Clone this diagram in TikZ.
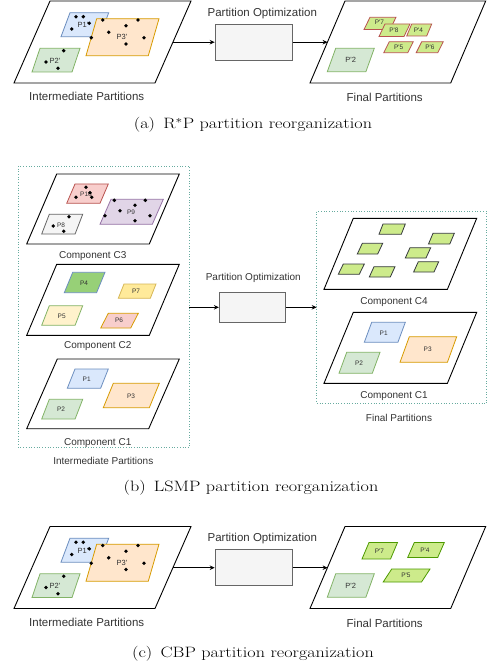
\documentclass[tikz,border=0pt]{standalone}
\usepackage{fontspec}
\newfontfamily\hv{Liberation Sans}
\usetikzlibrary{arrows.meta}
\definecolor{cblueF}{HTML}{DAE8FC}\definecolor{cblueS}{HTML}{6C8EBF}
\definecolor{corF}{HTML}{FFE6CC}\definecolor{corS}{HTML}{D79B00}
\definecolor{cgrF}{HTML}{D5E8D4}\definecolor{cgrS}{HTML}{82B366}
\definecolor{credF}{HTML}{F8CECC}\definecolor{credS}{HTML}{B85450}
\definecolor{cpuF}{HTML}{E1D5E7}\definecolor{cpuS}{HTML}{9673A6}
\definecolor{cgyF}{HTML}{F5F5F5}\definecolor{cgyS}{HTML}{666666}
\definecolor{cyeF}{HTML}{FFF2CC}\definecolor{cyeS}{HTML}{D6B656}
\definecolor{cye2F}{HTML}{FFEA9A}
\definecolor{climeF}{HTML}{CDEB8B}\definecolor{climeS}{HTML}{36393D}
\definecolor{cdkgrS}{HTML}{4D9900}
\definecolor{cgr2F}{HTML}{97D077}
\definecolor{cteal}{HTML}{67AB9F}
\definecolor{ctxt}{HTML}{333333}
\newcommand{\pgm}[6][]{\path[#1] (#2,#4) -- (#3,#4) -- ({#3-#5},#6) -- ({#2-#5},#6) -- cycle;}
\newcommand{\dt}[2]{\fill[black] (#1,#2) circle (1.9pt);}
\newcommand{\figtext}[1]{\scalebox{1.21}[1]{#1}}
\tikzset{
  big/.style={draw=black, line width=0.9pt, fill=white},
  pblue/.style={draw=cblueS, fill=cblueF, line width=0.8pt},
  porange/.style={draw=corS, fill=corF, line width=0.8pt},
  pgreen/.style={draw=cgrS, fill=cgrF, line width=0.8pt},
  pred/.style={draw=credS, fill=credF, line width=0.8pt},
  ppurple/.style={draw=cpuS, fill=cpuF, line width=0.8pt},
  pgray/.style={draw=cgyS, fill=cgyF, line width=0.8pt},
  pyellow/.style={draw=cgrS, fill=cyeF, line width=0.8pt},
  pyellowb/.style={draw=cyeS, fill=cye2F, line width=0.8pt},
  pfour/.style={draw=cblueS, fill=cgr2F, line width=0.8pt},
  psix/.style={draw=corS, fill=credF, line width=0.8pt},
  plimeR/.style={draw=credS, fill=climeF, line width=0.8pt},
  plimeK/.style={draw=climeS, fill=climeF, line width=0.8pt},
  plimeG/.style={draw=cdkgrS, fill=climeF, line width=0.8pt},
  lbl/.style={font=\hv\fontsize{7.5}{8}\selectfont, text=ctxt, inner sep=0},
  lbls/.style={font=\hv\fontsize{6.5}{7}\selectfont, text=ctxt, inner sep=0},
  capA/.style={font=\hv\fontsize{11.5}{13}\selectfont, text=ctxt, inner sep=0},
  capB/.style={font=\hv\fontsize{10}{12}\selectfont, text=ctxt, inner sep=0},
  optbox/.style={draw=cgyS, fill=cgyF, line width=0.8pt, inner sep=0},
  conn/.style={-{Stealth[length=5pt,width=4.5pt]}, line width=0.8pt},
  dotbox/.style={draw=cteal, dotted, line width=0.7pt},
  figcap/.style={font=\fontsize{15}{17}\selectfont, inner sep=0},
}
\newcommand{\leftgrp}[1]{%
  \pgm[big]{50}{191}{1}{36}{83}
  \pgm[pblue]{70}{108.7}{12.7}{9}{36.7}
  \pgm[porange]{96.7}{159}{18.7}{10.7}{55.7}
  \pgm[pgreen]{40}{80}{48.3}{8}{72}
  \node[lbl] (#1p1) at (83,25) {P1'};
  \node[lbl] (#1p3) at (122,37) {P3'};
  \node[lbl] (#1p2) at (55,60.7) {P2'};
  \dt{76}{16.7}\dt{83.3}{16.7}\dt{89.3}{23.3}\dt{71.7}{29}
  \dt{102.7}{20}\dt{126}{25.7}\dt{138}{20}\dt{108.7}{32.3}\dt{144}{37.7}
  \dt{91.3}{37.7}\dt{126}{44}\dt{63.7}{50.7}\dt{46}{62}\dt{58}{68.3}
  \node[capA] (#1inter) at (86.7,96.7) {Intermediate Partitions};
  \node[optbox, minimum width=77pt, minimum height=36pt] (#1opt) at (253.6,42.2) {};
  \node[capA] (#1optl) at (262.3,13.3) {Partition Optimization};
  \coordinate (#1from) at (173,42.2);
  \coordinate (#1to) at (327.6,42.2);
  \draw[conn] (#1from) -- (#1opt.west);
  \draw[conn] (#1opt.east) -- (#1to);
  \pgm[big]{345}{485.7}{1}{35}{83}
  \node[capA] (#1final) at (384.7,97.7) {Final Partitions};
}
\begin{document}
\begin{tikzpicture}[x=1pt,y=-1pt]
\useasboundingbox (0,0) rectangle (487,668);
% ---------------- (a)
\leftgrp{a}
\pgm[pgreen]{335.7}{374.3}{48.3}{8.4}{71.7}
\node[lbl] (afp2) at (350.7,60) {P'2};
\pgm[plimeR]{370}{396}{17.3}{6}{29.5}
\node[lbls] (afp7) at (379.5,22.5) {P'7};
\pgm[plimeR]{385}{410}{24}{6}{36.5}
\node[lbls] (afp8) at (394,30.5) {P'8};
\pgm[plimeR]{411.7}{431.7}{24}{5}{36}
\node[lbls] (afp4) at (418.5,30.2) {P'4};
\pgm[plimeR]{389.3}{413.3}{41.7}{5.5}{52.7}
\node[lbls] (afp5) at (398.6,47.2) {P'5};
\pgm[plimeR]{421.7}{443.3}{41.7}{5.5}{52.7}
\node[lbls] (afp6) at (430,47.2) {P'6};
\node[figcap] (capa) at (253,125) {\figtext{(a)\hspace{0.45em}R$^*$P partition reorganization}};
% ---------------- (b)
\draw[dotbox] (18.3,166) rectangle (189.3,447.3);
\pgm[big]{56.7}{179.3}{174}{30}{244}
\pgm[pred]{75}{108.3}{184}{8.3}{203.3}
\pgm[ppurple]{111}{163.3}{199.3}{11}{224.3}
\pgm[pgray]{49.3}{82.7}{214.3}{7.6}{234}
\node[lbls] (bp10) at (86,194.3) {P10};
\node[lbls] (bp9) at (131,212.3) {P9};
\node[lbls] (bp8) at (61,225.3) {P8};
\dt{86}{187.3}\dt{90}{192.7}\dt{91.7}{197.3}\dt{76}{197.3}
\dt{114.3}{200.3}\dt{135}{205.3}\dt{145.3}{200.3}\dt{120}{210.7}
\dt{105}{215.7}\dt{150}{215.7}\dt{135}{220.7}
\dt{69}{216.7}\dt{53.3}{226}\dt{63.7}{231.3}
\node[capB] (bc3) at (92.7,256) {Component C3};
\pgm[big]{56.7}{179.3}{264.3}{30}{335.3}
\pgm[pfour]{72.7}{105}{272.3}{8.4}{292.7}
\pgm[pyellowb]{124}{156}{284}{5.7}{298.3}
\pgm[pyellow]{49.3}{82.7}{305.7}{7.6}{325.3}
\pgm[psix]{108.3}{138.3}{313.3}{7.6}{328}
\node[lbls] (bp4) at (84,283) {P4};
\node[lbls] (bp7) at (136,291.3) {P7};
\node[lbls] (bp5) at (61.7,316.5) {P5};
\node[lbls] (bp6) at (119,320.7) {P6};
\node[capB] (bc2) at (97.7,345.7) {Component C2};
\pgm[big]{57.3}{179.3}{359}{30.6}{428.7}
\pgm[pblue]{75}{108.3}{369}{7.7}{388.3}
\pgm[porange]{113.3}{159.3}{383.3}{10}{407.7}
\pgm[pgreen]{49.3}{82.7}{399.3}{7.6}{419}
\node[lbls] (bp1) at (86.7,379.5) {P1};
\node[lbls] (bp3) at (131,396) {P3};
\node[lbls] (bp2) at (61,409.3) {P2};
\node[capB] (bc1) at (97.7,442.7) {Component C1};
\node[capB] (binter) at (103.3,460.7) {Intermediate Partitions};
\coordinate (bfrom) at (189.3,307.3);
\node[optbox, minimum width=66.4pt, minimum height=30pt] (bopt) at (252.5,307.3) {};
\node[capB] (boptl) at (253.3,278.3) {Partition Optimization};
\coordinate (bto) at (316.7,307.3);
\draw[conn] (bfrom) -- (bopt.west);
\draw[conn] (bopt.east) -- (bto);
\draw[dotbox] (316.7,211.7) rectangle (486.6,403.3);
\pgm[big]{353.3}{476.7}{218.3}{29.3}{289.3}
\pgm[plimeK]{383}{405.3}{224}{4}{234.3}
\pgm[plimeK]{433}{454.3}{233.3}{4.5}{244}
\pgm[plimeK]{362.3}{382.7}{243.3}{5}{254}
\pgm[plimeK]{410}{430.7}{247.7}{4.7}{258}
\pgm[plimeK]{418.3}{438.7}{261.7}{4.7}{272}
\pgm[plimeK]{343.3}{364.3}{264}{5}{274.3}
\pgm[plimeK]{374}{395}{266.7}{4.7}{277}
\node[capB] (bc4) at (394,301.7) {Component C4};
\pgm[big]{353.3}{476.7}{312.3}{29.3}{383.3}
\pgm[pblue]{371.7}{405.3}{322.3}{7.4}{342.3}
\pgm[porange]{409.3}{456.7}{336.7}{9.3}{362.3}
\pgm[pgreen]{346.7}{380}{352.3}{7.7}{373.3}
\node[lbls] (bfp1) at (383.7,333) {P1};
\node[lbls] (bfp3) at (427.7,349.3) {P3};
\node[lbls] (bfp2) at (359,363) {P2};
\node[capB] (bc1r) at (394,396) {Component C1};
\node[capB] (bfinal) at (399,417.7) {Final Partitions};
\node[figcap] (capb) at (251,488) {\figtext{(b)\hspace{0.45em}LSMP partition reorganization}};
% ---------------- (c)
\begin{scope}[shift={(0,525.5)}]
\leftgrp{c}
\pgm[pgreen]{335.7}{374.3}{48.3}{8.4}{71.7}
\node[lbl] (cfp2) at (350.7,60) {P'2};
\end{scope}
\pgm[plimeG]{369}{397.5}{542.5}{7}{559}
\pgm[plimeG]{414.3}{444.3}{542.5}{6.6}{557.5}
\pgm[plimeG]{391.7}{430}{569}{8.5}{582}
\node[lbls] (cfp7) at (379.5,551) {P'7};
\node[lbls] (cfp4) at (425,550) {P'4};
\node[lbls] (cfp5) at (406,575.5) {P'5};
\node[figcap] (capc) at (253,653.3) {\figtext{(c)\hspace{0.45em}CBP partition reorganization}};
\end{tikzpicture}
\end{document}
